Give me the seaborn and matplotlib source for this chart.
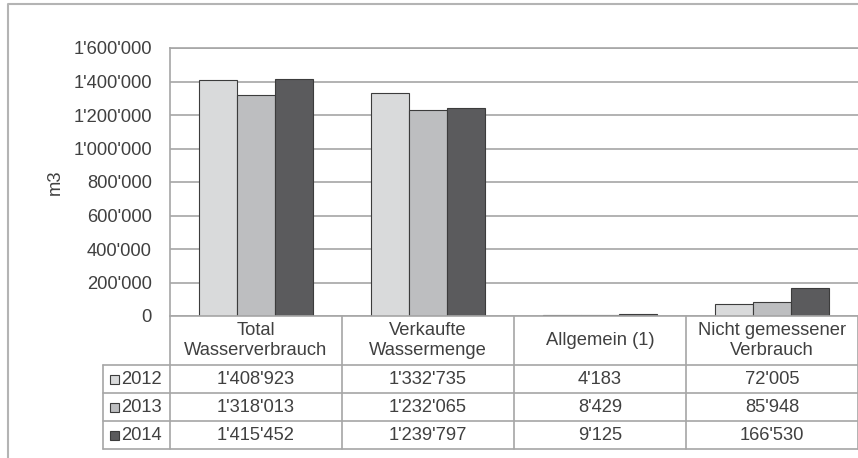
import matplotlib
matplotlib.use("Agg")
import matplotlib.pyplot as plt
import matplotlib.transforms as mtransforms
from matplotlib.lines import Line2D
from matplotlib.patches import Rectangle
import seaborn as sns
import pandas as pd

# Water balance per year (m3)
categories = ["Total\nWasserverbrauch", "Verkaufte\nWassermenge", "Allgemein (1)", "Nicht gemessener\nVerbrauch"]
years = ["2012", "2013", "2014"]
values_2012 = [1408923, 1332735, 4183, 72005]
values_2013 = [1318013, 1232065, 8429, 85948]
values_2014 = [1415452, 1239797, 9125, 166530]
y_ticks = [0, 200000, 400000, 600000, 800000, 1000000, 1200000, 1400000, 1600000]
colors = ["#d9dadb", "#bdbec0", "#5b5b5d"]

series = dict(zip(years, [values_2012, values_2013, values_2014]))
df = pd.DataFrame(
    [(c, y, v) for y in years for c, v in zip(categories, series[y])],
    columns=["Kategorie", "Jahr", "m3"],
)

def fmt(v):
    return f"{v:,.0f}".replace(",", "'")

sns.set_theme(style="white")
plt.rcParams["font.family"] = ["Liberation Sans", "DejaVu Sans"]
text_color = "#404040"
line_color = "#a6a6a6"
fs = 13.2

W, H = 858, 458
fig = plt.figure(figsize=(W / 100, H / 100), dpi=100)

def fx(px):
    return px / W

def fy(py):
    return 1 - py / H

ax_left, ax_right, ax_top, ax_bottom = 170, 858, 48, 316
ax = fig.add_axes([fx(ax_left), fy(ax_bottom), fx(ax_right - ax_left), (ax_bottom - ax_top) / H])

sns.barplot(
    data=df, x="Kategorie", y="m3", hue="Jahr", order=categories, hue_order=years,
    palette=colors, saturation=1, width=0.663, edgecolor="#3c3c3c", linewidth=0.8,
    legend=False, ax=ax,
)
ax.set_xlim(-0.5, len(categories) - 0.5)
ax.set_ylim(0, 1600000)
ax.set_yticks(y_ticks)
ax.set_yticklabels([fmt(v) for v in y_ticks], fontsize=fs, color=text_color)
ax.tick_params(axis="y", length=0, pad=13)
ax.set_xticks([])
ax.set_xlabel("")
ax.set_ylabel("m3", fontsize=fs, color=text_color, labelpad=7)
ax.yaxis.grid(True, color=line_color, linewidth=1.2)
ax.set_axisbelow(True)
for side in ["left", "top", "bottom"]:
    ax.spines[side].set_color(line_color)
    ax.spines[side].set_linewidth(1.2)
ax.spines["right"].set_visible(False)

# Data table below the plot
blend = mtransforms.blended_transform_factory(ax.transData, fig.transFigure)
row_lines = [316, 365, 393, 421, 449]
leg_left = 103
lw = 1.2
n = len(categories)

for i in range(n + 1):
    fig.add_artist(Line2D([i - 0.5, i - 0.5], [fy(316), fy(449)], transform=blend,
                          color=line_color, linewidth=lw))
for r in row_lines[1:]:
    fig.add_artist(Line2D([fx(leg_left), 1], [fy(r), fy(r)], transform=fig.transFigure,
                          color=line_color, linewidth=lw))
fig.add_artist(Line2D([fx(leg_left), fx(leg_left)], [fy(365), fy(449)], transform=fig.transFigure,
                      color=line_color, linewidth=lw))

for i, cat in enumerate(categories):
    fig.text(i, fy((316 + 365) / 2), cat, transform=blend, ha="center", va="center",
             fontsize=fs, color=text_color, linespacing=1.3)

for r, (yr, col) in enumerate(zip(years, colors)):
    yc = fy((row_lines[r + 1] + row_lines[r + 2]) / 2)
    for i, v in enumerate(series[yr]):
        fig.text(i, yc, fmt(v), transform=blend, ha="center", va="center",
                 fontsize=fs, color=text_color)
    fig.add_artist(Rectangle((fx(110), yc - 4.5 / H), 9 / W, 9 / H, transform=fig.transFigure,
                             facecolor=col, edgecolor="#3c3c3c", linewidth=0.8))
    fig.text(fx(121), yc, yr, ha="left", va="center", fontsize=fs, color=text_color)

# Chart frame
fig.add_artist(Line2D([fx(7.5), fx(7.5), 1], [0, fy(4), fy(4)], transform=fig.transFigure,
                      color="#b4b4b4", linewidth=1.5))

fig.savefig("out.png", dpi=100, facecolor="white")
